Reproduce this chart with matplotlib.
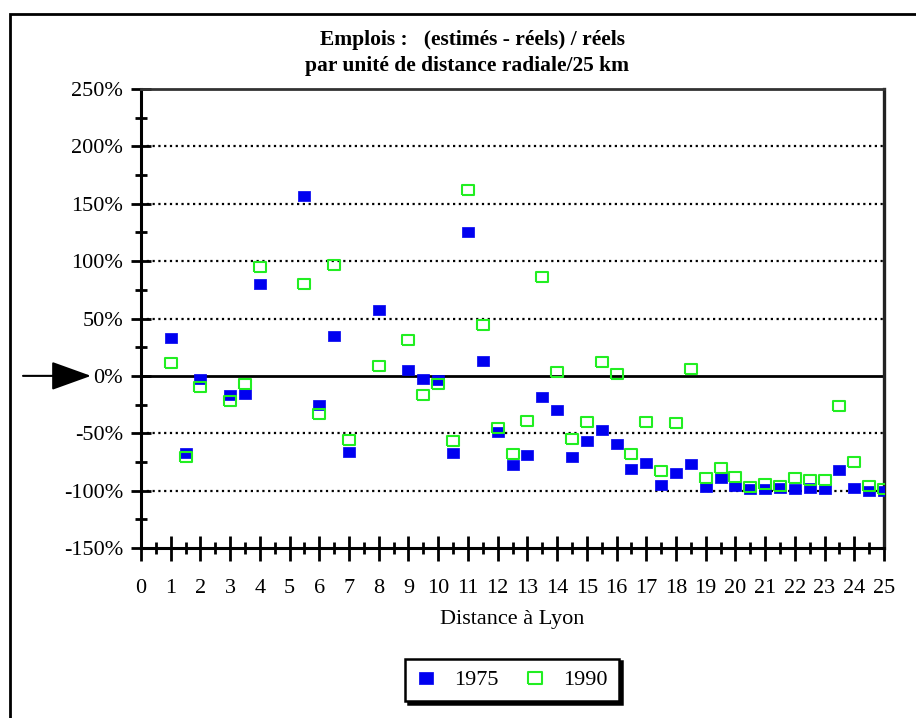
import matplotlib.pyplot as plt
from matplotlib.ticker import MultipleLocator, FuncFormatter
from matplotlib.patches import Rectangle

plt.rcParams['font.family'] = ['Liberation Serif', 'DejaVu Serif']

# distance classes (x 25 km) and relative errors in %
dist = [1, 1.5, 2, 3, 3.5, 4, 5.5, 6, 6.5, 7, 8, 9, 9.5, 10, 10.5, 11, 11.5,
        12, 12.5, 13, 13.5, 14, 14.5, 15, 15.5, 16, 16.5, 17, 17.5, 18, 18.5,
        19, 19.5, 20, 20.5, 21, 21.5, 22, 22.5, 23, 23.5, 24, 24.5, 25]
err_1975 = [33, -67, -3, -17, -16, 80, 157, -25, 35, -66, 57, 5, -3, -4, -67,
            125, 13, -49, -78, -69, -18, -30, -71, -57, -47, -59, -81, -76,
            -95, -85, -77, -97, -89, -96, -99, -99, -98, -98.5, -98, -98.5,
            -82, -97.5, -100, -100]
err_1990 = [11, -71, -10, -22, -7, 95, 80, -33, 97, -56, 9, 31, -17, -7, -57,
            162, 44, -45, -68, -39, 86, 3, -55, -40, 12, 1.5, -68, -40, -83,
            -41, 6, -89, -80, -88, -97, -94, -96, -89, -91, -91, -26, -75,
            -96, -99]

W, H = 916, 718
fig = plt.figure(figsize=(W / 100, H / 100), dpi=100)
ax = fig.add_axes([141 / W, 1 - 548 / H, 743 / W, 459 / H])

rect_marker = [(-1.25, -1), (1.25, -1), (1.25, 1), (-1.25, 1), (-1.25, -1)]
ax.plot(dist, err_1975, linestyle='none', marker=rect_marker, ms=9,
        mfc='#0000f0', mec='#0000f0', mew=0.5, label='1975', zorder=3)
ax.plot(dist, err_1990, linestyle='none', marker=rect_marker, ms=9,
        mfc='none', mec='#22ee22', mew=1.5, label='1990', zorder=4)

ax.set_xlim(0, 25)
ax.set_ylim(-150, 250)
ax.xaxis.set_major_locator(MultipleLocator(1))
ax.xaxis.set_minor_locator(MultipleLocator(0.5))
ax.yaxis.set_major_locator(MultipleLocator(50))
ax.yaxis.set_minor_locator(MultipleLocator(25))
ax.yaxis.set_major_formatter(FuncFormatter(lambda v, p: f'{v:.0f}%'))

ax.tick_params(which='major', direction='inout', length=14, width=2,
               labelsize=16, color='black')
ax.tick_params(which='minor', direction='inout', length=9, width=2)
ax.tick_params(axis='x', which='major', length=18, pad=13)
ax.tick_params(axis='y', pad=6)

for v in [200, 150, 100, 50, -50, -100]:
    ax.axhline(v, color='black', lw=1.6, linestyle=(0, (1, 1.6)), zorder=1)
ax.axhline(0, color='black', lw=2, zorder=2)

ax.spines['left'].set_linewidth(2.2)
ax.spines['bottom'].set_linewidth(2.2)
ax.spines['top'].set_linewidth(2)
ax.spines['right'].set_linewidth(2.4)
ax.spines['top'].set_color('#333333')
ax.spines['right'].set_color('#222222')

ax.set_xlabel('Distance à Lyon', fontsize=16, labelpad=9)

fig.text(473 / W, 1 - 40 / H, 'Emplois :   (estimés - réels) / réels',
         ha='center', va='center', fontsize=15.5, fontweight='bold')
fig.text(467 / W, 1 - 66 / H, 'par unité de distance radiale/25 km',
         ha='center', va='center', fontsize=15.5, fontweight='bold')

# outer frame (bottom and right run off the picture)
fig.add_artist(Rectangle((10 / W, -0.05), 1.0, 1 - 14 / H + 0.05,
                         transform=fig.transFigure, fill=False,
                         edgecolor='black', lw=2))

# arrow pointing at 0%
ax.annotate('', xy=(91 / W, 0), xytext=(23 / W, 0),
            xycoords=('figure fraction', 'data'),
            textcoords=('figure fraction', 'data'),
            arrowprops=dict(arrowstyle='-|>,head_length=2.5,head_width=0.9',
                            mutation_scale=10, color='black', lw=1.5,
                            shrinkA=0, shrinkB=0),
            annotation_clip=False)

leg = fig.legend(loc='center', bbox_to_anchor=(512 / W, 1 - 680 / H),
                 ncol=2, fontsize=16, frameon=True, fancybox=False,
                 shadow={'color': 'black', 'alpha': 1}, markerscale=1.15,
                 handlelength=0.9, handletextpad=0.8, columnspacing=1.2,
                 borderpad=0.5)
leg.get_frame().set_edgecolor('black')
leg.get_frame().set_linewidth(1.8)

fig.savefig('out.png', dpi=100)
